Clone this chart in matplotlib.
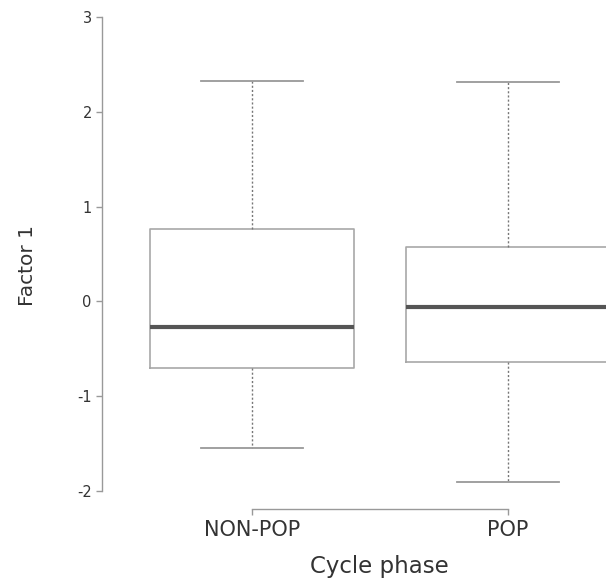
import matplotlib
matplotlib.use("Agg")
import matplotlib.pyplot as plt

categories = ["NON-POP", "POP"]
q1 = [-0.70, -0.64]
median = [-0.27, -0.06]
q3 = [0.76, 0.57]
whislo = [-1.55, -1.91]
whishi = [2.32, 2.31]
yticks = [-2, -1, 0, 1, 2, 3]

W, H = 606, 588
fig = plt.figure(figsize=(W / 100, H / 100), dpi=100)
ax = fig.add_axes([102 / W, 88 / H, (W - 102) / W, (500 - 10) / H])

stats = [dict(label=c, q1=a, med=m, q3=b, whislo=lo, whishi=hi, fliers=[])
         for c, a, m, b, lo, hi in zip(categories, q1, median, q3, whislo, whishi)]
ax.bxp(stats, positions=[1, 2], widths=0.8, capwidths=0.4, showfliers=False,
       boxprops=dict(color="#a8a8a8", linewidth=1.2),
       medianprops=dict(color="#555555", linewidth=3),
       whiskerprops=dict(color="#777777", linewidth=1, linestyle=(0, (1.5, 1.5))),
       capprops=dict(color="#999999", linewidth=1.3))

ax.set_xlim(1 - 150 / 256, 2 + 98 / 256)
ax.set_ylim(-2 - 9 / 94.8, 3 + 7 / 94.8)

for s in ["top", "right"]:
    ax.spines[s].set_visible(False)
ax.spines["left"].set_bounds(-2, 3)
ax.spines["bottom"].set_bounds(1, 2)
ax.spines["bottom"].set_position(("outward", 6.5))
for s in ["left", "bottom"]:
    ax.spines[s].set_color("#999999")
    ax.spines[s].set_linewidth(1)

ax.set_yticks(yticks)
ax.set_yticklabels([str(t) for t in yticks])
ax.set_xticks([1, 2])
ax.set_xticklabels(categories)
ax.tick_params(axis="y", length=4.3, width=1, color="#999999", labelsize=10.5,
               labelcolor="#333333", pad=3)
ax.tick_params(axis="x", length=4.3, width=1, color="#999999", labelsize=15,
               labelcolor="#333333", pad=3.6)

ax.set_ylabel("Factor 1", fontsize=14.5, color="#333333")
ax.yaxis.set_label_coords((37 - 102) / 504, (500 - 265) / 490)
ax.set_xlabel("Cycle phase", fontsize=16.5, color="#333333")
ax.xaxis.set_label_coords((379 - 102) / 504, (500 - 555) / 490)

fig.savefig("out.png", dpi=100)
